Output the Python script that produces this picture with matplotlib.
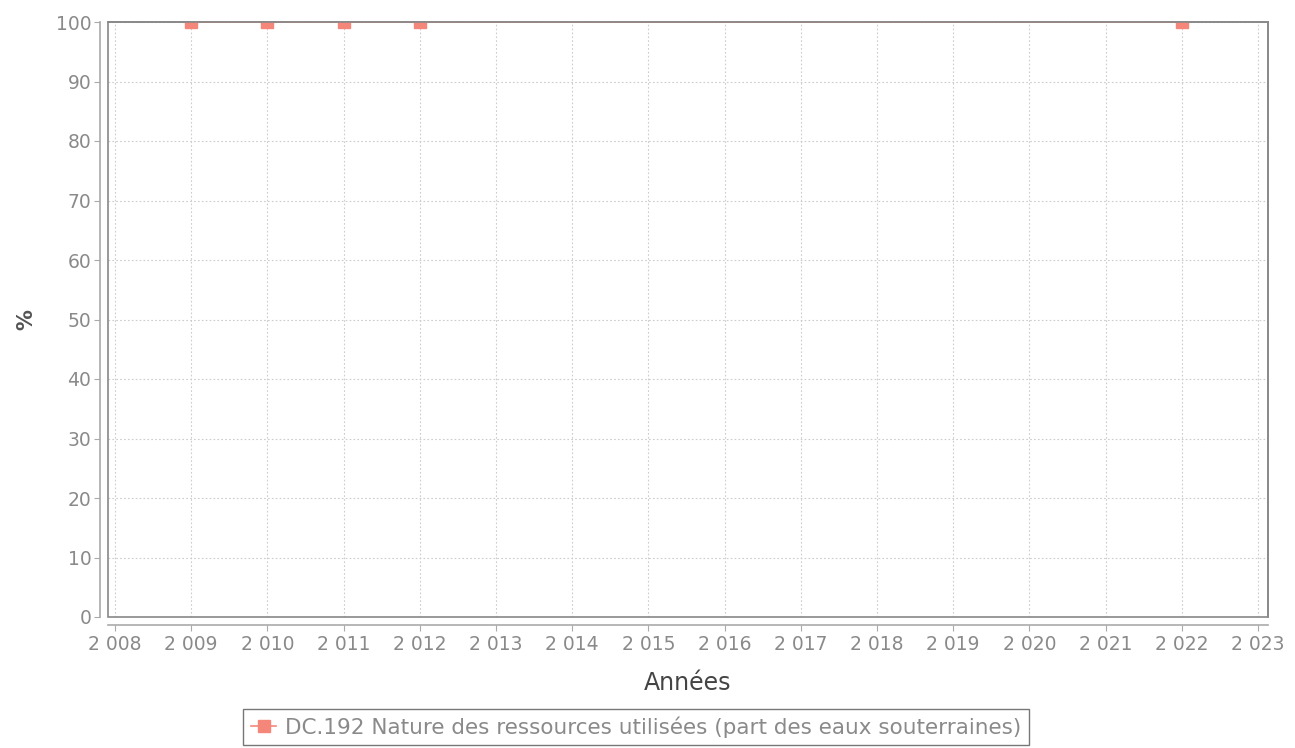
import matplotlib
matplotlib.use("Agg")
import matplotlib.pyplot as plt
from matplotlib.patches import Rectangle
from matplotlib.ticker import FuncFormatter

years = [2009, 2010, 2011, 2012, 2022]
values = [100, 100, 100, 100, 100]
x_ticks = list(range(2008, 2024))
y_ticks = list(range(0, 101, 10))
series_label = "DC.192 Nature des ressources utilisées (part des eaux souterraines)"

plt.rcParams['font.family'] = ['DejaVu Sans']
fig = plt.figure(figsize=(12.95, 7.48), dpi=100)
ax = fig.add_axes([108/1295, 1-617/748, (1268-108)/1295, (617-22)/748])

red = '#f4877a'
ax.plot(years, values, color=red, lw=1.2, marker='s', markersize=9,
        markeredgecolor=red, markerfacecolor=red, label=series_label, clip_on=True, zorder=3)

ax.set_xlim(2007.91, 2023.13)
ax.set_ylim(0, 100)
ax.set_xticks(x_ticks)
ax.set_yticks(y_ticks)
ax.xaxis.set_major_formatter(FuncFormatter(lambda v, p: f"{int(v)//1000} {int(v)%1000:03d}"))
ax.grid(True, color='#cccccc', linestyle=(0, (1.5, 2)), lw=0.8)

for s in ['top', 'right']:
    ax.spines[s].set_color('#888888')
    ax.spines[s].set_linewidth(1.2)
for s in ['bottom', 'left']:
    ax.spines[s].set_position(('outward', 6))
    ax.spines[s].set_color('#aaaaaa')
    ax.spines[s].set_linewidth(1.2)
ax.add_patch(Rectangle((0, 0), 1, 1, transform=ax.transAxes, fill=False,
                       edgecolor='#888888', lw=1.2, clip_on=False, zorder=4))

ax.tick_params(axis='both', colors='#aaaaaa', labelcolor='#8a8a8a', labelsize=13.5, length=4)
ax.tick_params(axis='x', pad=3)
ax.tick_params(axis='y', pad=2)
ax.set_xlabel('Années', fontsize=17, color='#444444', labelpad=12)
ax.set_ylabel('%', fontsize=15, color='#555555', fontweight='bold', labelpad=14)

leg = fig.legend(loc='center', bbox_to_anchor=(636/1295, 1-727/748), frameon=True,
                 fontsize=15.5, fancybox=False, borderpad=0.35, handlelength=1.2,
                 handletextpad=0.4, borderaxespad=0)
leg.get_frame().set_edgecolor('#555555')
leg.get_frame().set_linewidth(1.0)
for t in leg.get_texts():
    t.set_color('#8a8a8a')

fig.savefig('out.png', dpi=100)
